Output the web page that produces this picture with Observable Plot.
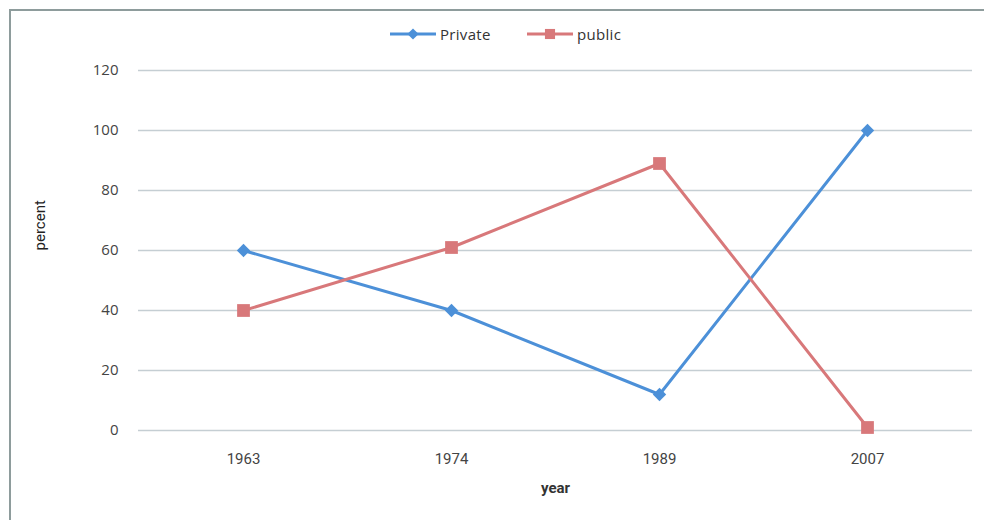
<!DOCTYPE html>
<html>
<head>
<meta charset="utf-8">
<script src="https://cdn.jsdelivr.net/npm/d3@7"></script>
<script src="https://cdn.jsdelivr.net/npm/@observablehq/plot@0.6"></script>
<style>
  html, body { margin: 0; padding: 0; background: #fff; overflow: hidden; }
  #chart { position: relative; width: 984px; height: 520px; overflow: hidden; }
  #frame { position: absolute; left: 9px; top: 9px; right: -20px; bottom: -20px;
           border-left: 2px solid #8e9c9c; border-top: 2px solid #8e9c9c; }
  #legend { position: absolute; left: 0; top: 0; width: 984px; height: 55px;
            font-family: "Open Sans", sans-serif; font-size: 15px; color: #333; letter-spacing: 0.3px; }
  .item { position: absolute; top: 24px; display: flex; align-items: center; height: 20px; }
  .item svg { margin-right: 2px; }
  #plot { position: absolute; left: 0; top: 55px; }
</style>
</head>
<body>
<div id="chart">
  <div id="frame"></div>
  <div id="legend"></div>
  <div id="plot"></div>
</div>
<script>
// Share of housing supply by sector, per survey year
const years = ["1963", "1974", "1989", "2007"];
const privateShare = [60, 40, 12, 100];
const publicShare = [40, 61, 89, 1];
const seriesNames = ["Private", "public"];
const seriesColors = ["#4c90d8", "#d8787a"];
const seriesSymbols = ["diamond2", "square"];
const yTicks = [0, 20, 40, 60, 80, 100, 120];

const rows = [
  ...years.map((y, i) => ({year: y, value: privateShare[i], series: seriesNames[0]})),
  ...years.map((y, i) => ({year: y, value: publicShare[i], series: seriesNames[1]}))
];

const color = {domain: seriesNames, range: seriesColors};

const chart = Plot.plot({
  width: 984,
  height: 465,
  marginLeft: 138,
  marginRight: 12,
  marginTop: 15,
  marginBottom: 90,
  style: {fontFamily: "'Open Sans', sans-serif", fontSize: "15px", color: "#444", background: "transparent"},
  x: {domain: years, type: "point", padding: 0.5, label: null},
  y: {domain: [0, 120], ticks: yTicks, label: null},
  color,
  symbol: {domain: seriesNames, range: seriesSymbols},
  marks: [
    Plot.gridY(yTicks, {stroke: "#c5ced3", strokeOpacity: 1, strokeWidth: 1.5}),
    Plot.axisY(yTicks, {tickSize: 0, tickPadding: 20, fontSize: 15, fill: "#444", label: null}),
    Plot.axisX({tickSize: 0, tickPadding: 23, fontFamily: "Roboto, sans-serif", fontSize: 15, fill: "#444", label: null}),
    Plot.text(["year"], {frameAnchor: "bottom", dy: 62, fontWeight: "bold", fontSize: 15, fill: "#333", fontFamily: "Roboto, sans-serif"}),
    Plot.text(["percent"], {frameAnchor: "left", dx: -98, rotate: -90, fontSize: 15, fill: "#222", fontFamily: "Roboto, sans-serif"}),
    Plot.line(rows, {x: "year", y: "value", z: "series", stroke: "series", strokeWidth: 3}),
    Plot.dot(rows.filter(d => d.series === "Private"), {x: "year", y: "value", symbol: "series", fill: "series", r: 6}),
    Plot.dot(rows.filter(d => d.series === "public"), {x: "year", y: "value", symbol: "series", fill: "series", r: 7.2})
  ]
});
document.getElementById("plot").appendChild(chart);

// Legend: line sample with the series marker, then the series name
const legend = d3.select("#legend");
const legendX = [388, 525];
seriesNames.forEach((name, i) => {
  const item = legend.append("div").attr("class", "item").style("left", legendX[i] + "px");
  const s = item.append("svg").attr("width", 50).attr("height", 20);
  s.append("line").attr("x1", 2).attr("x2", 48).attr("y1", 10).attr("y2", 10)
    .attr("stroke", seriesColors[i]).attr("stroke-width", 3);
  const sym = d3.symbol(i === 0 ? d3.symbolDiamond2 : d3.symbolSquare2, i === 0 ? 80 : 130);
  s.append("path").attr("d", sym()).attr("transform", "translate(25,10)").attr("fill", seriesColors[i]);
  item.append("span").text(name);
});
</script>
</body>
</html>
